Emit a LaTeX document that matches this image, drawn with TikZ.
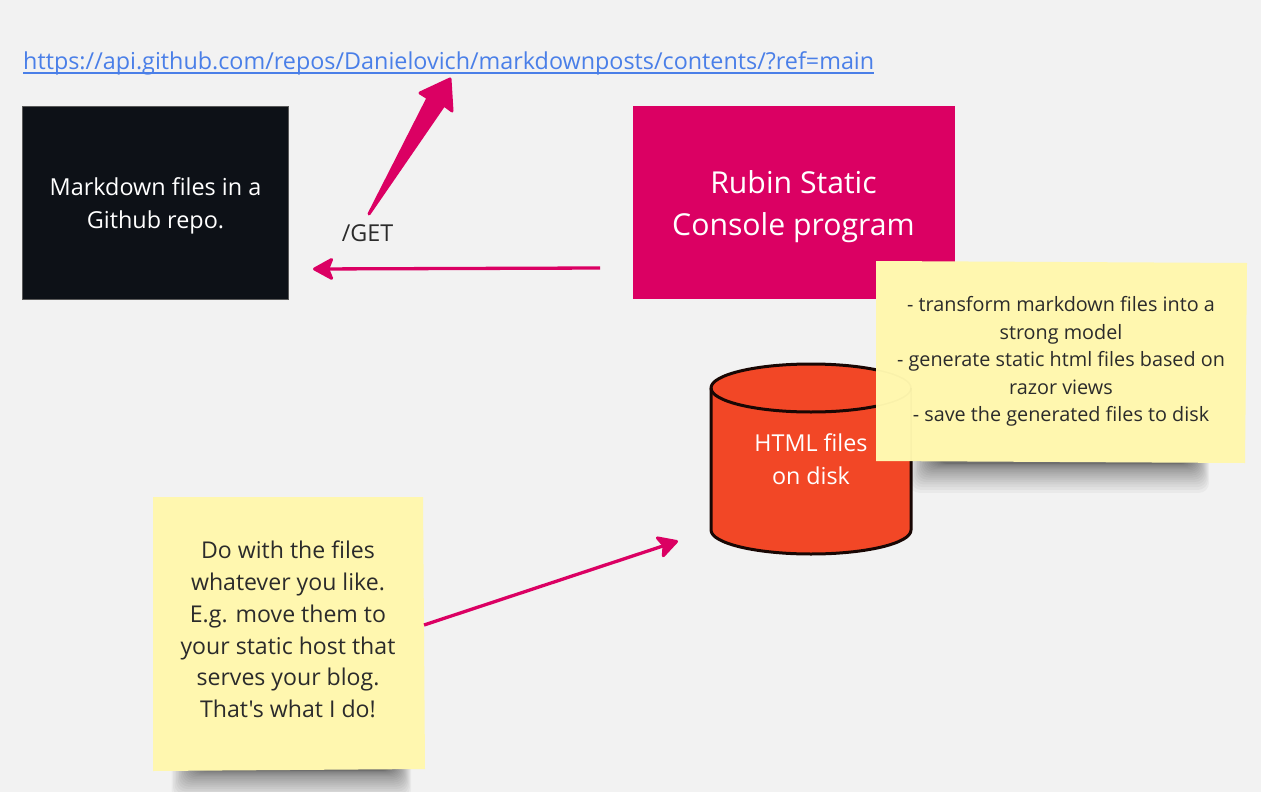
\documentclass[tikz,border=0pt]{standalone}
\usepackage{fontspec}
\newfontfamily\ofont{Open Sans}
\usetikzlibrary{arrows.meta}
\definecolor{bgc}{HTML}{F2F2F2}
\definecolor{pinkc}{HTML}{DB0063}
\definecolor{darkc}{HTML}{0D1117}
\definecolor{orangec}{HTML}{F24726}
\definecolor{notec}{HTML}{FFF7AF}
\definecolor{linkc}{HTML}{4A7FE8}
\definecolor{inkc}{HTML}{2B2B2B}
\tikzset{
  x=1pt,y=-1pt,
  label text/.style={align=center,inner sep=0pt},
  conn/.style={draw=pinkc,line width=3.3pt,-{Stealth[length=23pt,width=25pt,inset=5pt,round,line width=3pt]}},
}
\newcommand{\softshadow}[3]{%
  \foreach \k in {0,...,19}{
    \fill[black,opacity=0.034,rounded corners=10pt]
      ({#1-\k*1.5},{#2-12}) rectangle ({#3+\k*1.0},{#2+3+\k*\k*0.08});
  }%
}
\begin{document}
\begin{tikzpicture}
\useasboundingbox (0,0) rectangle (1261,792);
\fill[bgc] (0,0) rectangle (1261,792);

\node[label text,anchor=base west,text=linkc,font=\ofont\fontsize{23.35}{28}\selectfont] (url) at (23,70)
  {https://api.github.com/repos/Danielovich/markdownposts/contents/?ref=main};
\draw[linkc,line width=1.4pt] ([yshift=-3.2pt]url.base west) -- ([yshift=-3.2pt]url.base east);

\node[draw=black!65,line width=.8pt,fill=darkc,minimum width=266pt,minimum height=192.5pt,
  inner sep=0pt] (repo) at (155.5,202.75) {};
\node[label text,text=white,font=\ofont\fontsize{23.4}{33}\selectfont] (repotext) at (155.5,206)
  {Markdown files in a\\Github repo.};

\node[fill=pinkc,minimum width=322pt,minimum height=193pt,inner sep=0pt] (rubin) at (794,202.5) {};
\node[label text,text=white,font=\ofont\fontsize{30.2}{42}\selectfont] (rubintext) at (793.5,207)
  {Rubin Static\\Console program};

\node[label text,text=inkc,font=\ofont\fontsize{23.3}{28}\selectfont] (get) at (367.5,233) {/GET};

% tapered arrow to the url
\coordinate (tapertail) at (369,214);
\coordinate (tapertip) at (450,79);
\filldraw[pinkc,line width=3pt,line join=round]
  (tapertail) -- (428,98) -- (420,93) -- (tapertip) -- (452,111) -- (444,105) -- cycle;

% arrow to the repo
\coordinate (callstart) at (600,268);
\coordinate (callend) at (313,269);
\draw[conn] (callstart) -- (callend);

% cylinder
\path[fill=orangec,draw=black!90!orangec,line width=3pt]
  (711,388) -- (711,530) arc[start angle=180,end angle=360,x radius=100,y radius=-24]
  -- (911,388) arc[start angle=0,end angle=-180,x radius=100,y radius=24] -- cycle;
\draw[black!90!orangec,line width=3pt] (711,388) arc[start angle=180,end angle=360,x radius=100,y radius=-24];
\node[label text,text=white,font=\ofont\fontsize{23.3}{33}\selectfont] (html) at (811,459)
  {HTML files\\on disk};

% first note
\softshadow{938}{461}{1190}
\fill[notec] (876,261) -- (1247,263) -- (1245,463) -- (876,461) -- cycle;
\begin{scope}
  \clip (876,261) -- (1247,263) -- (1245,463) -- (876,461) -- cycle;
  \draw[black,opacity=.025,line width=1.5pt] (711,388) arc[start angle=180,end angle=360,x radius=100,y radius=-24];
  \draw[black,opacity=.025,line width=1.5pt] (811,364) arc[start angle=-90,end angle=0,x radius=100,y radius=24] -- (911,470);
\end{scope}
\node[label text,text=inkc,font=\ofont\fontsize{19.8}{27.5}\selectfont] (steps) at (1061,361.5)
  {- transform markdown files into a\\strong model\\- generate static html files based on\\razor views\\- save the generated files to disk};

% second note
\softshadow{200}{768}{392}
\fill[notec] (153,497) -- (423,497) -- (425,769) -- (153,771) -- cycle;
\node[label text,text=inkc,font=\ofont\fontsize{23.1}{31.85}\selectfont] (advice) at (288,629.5)
  {Do with the files\\whatever you like.\\E.g. move them to\\your static host that\\serves your blog.\\That's what I do!};

\coordinate (advstart) at (424,625);
\coordinate (advend) at (678,541);
\draw[conn] (advstart) -- (advend);
\end{tikzpicture}
\end{document}
